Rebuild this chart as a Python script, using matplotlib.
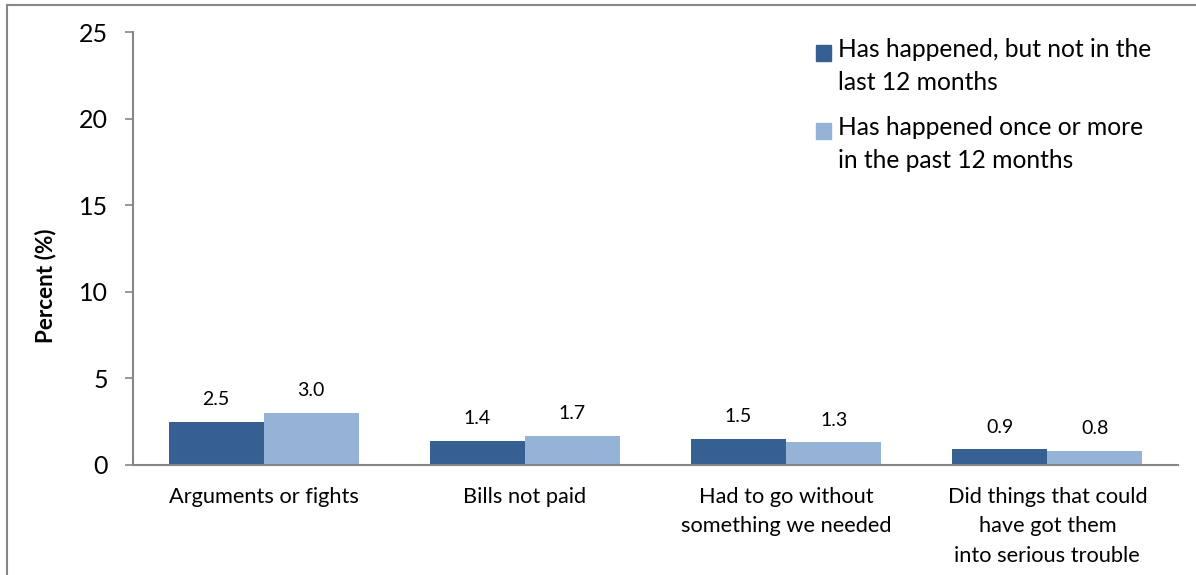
import matplotlib
matplotlib.use("Agg")
import matplotlib.pyplot as plt
from matplotlib.patches import Rectangle
import numpy as np

categories = ["Arguments or fights", "Bills not paid",
              "Had to go without\nsomething we needed",
              "Did things that could\nhave got them\ninto serious trouble"]
series_names = ["Has happened, but not in the\nlast 12 months",
                "Has happened once or more\nin the past 12 months"]
not_last_12 = [2.5, 1.4, 1.5, 0.9]
past_12 = [3.0, 1.7, 1.3, 0.8]
yticks = [0, 5, 10, 15, 20, 25]

colors = ["#376092", "#95B3D7"]
plt.rcParams['font.family'] = ['Lato', 'DejaVu Sans']

fig = plt.figure(figsize=(11.96, 5.75), dpi=100)
ax = fig.add_axes([133/1196, 1-465/575, (1178-133)/1196, (465-32)/575])

x = np.arange(len(categories))
w = 0.364
b1 = ax.bar(x - w/2, not_last_12, w, color=colors[0])
b2 = ax.bar(x + w/2, past_12, w, color=colors[1])
for bars, vals in ((b1, not_last_12), (b2, past_12)):
    for r, v in zip(bars, vals):
        ax.annotate(f"{v:.1f}", (r.get_x() + r.get_width()/2, v),
                    xytext=(0, 10), textcoords="offset points",
                    ha="center", va="bottom", fontsize=14)

ax.set_xlim(-0.5, len(categories) - 0.5)
ax.set_ylim(0, 25)
ax.set_yticks(yticks)
ax.set_yticklabels([str(t) for t in yticks], fontsize=18)
ax.set_xticks(x)
ax.set_xticklabels(categories, fontsize=15.7, linespacing=1.62, va="top")
ax.tick_params(axis="x", length=0, pad=15.5)
ax.tick_params(axis="y", length=6, width=1.2, color="#868686", pad=12)
for s in ("top", "right"):
    ax.spines[s].set_visible(False)
for s in ("left", "bottom"):
    ax.spines[s].set_color("#868686")
    ax.spines[s].set_linewidth(1.5)
ax.set_ylabel("Percent (%)", fontsize=16.2, fontweight="bold")
ax.yaxis.set_label_coords(-0.073, 0.415)

# legend drawn manually
for i, (name, c) in enumerate(zip(series_names, colors)):
    ytop = 45 + i * 78
    fig.patches.append(Rectangle((816/1196, 1-(ytop+16)/575), 15/1196, 16/575,
                                 transform=fig.transFigure, color=c))
    fig.text(838/1196, 1-(ytop-7)/575, name, fontsize=17.7, va="top",
             ha="left", linespacing=1.5)

# outer border (left and top)
fig.add_artist(plt.Line2D([7/1196, 7/1196], [0, 1-5/575], transform=fig.transFigure,
                          color="#868686", lw=1.5))
fig.add_artist(plt.Line2D([7/1196, 1], [1-5/575, 1-5/575], transform=fig.transFigure,
                          color="#868686", lw=1.5))

fig.savefig("out.png", dpi=100)
